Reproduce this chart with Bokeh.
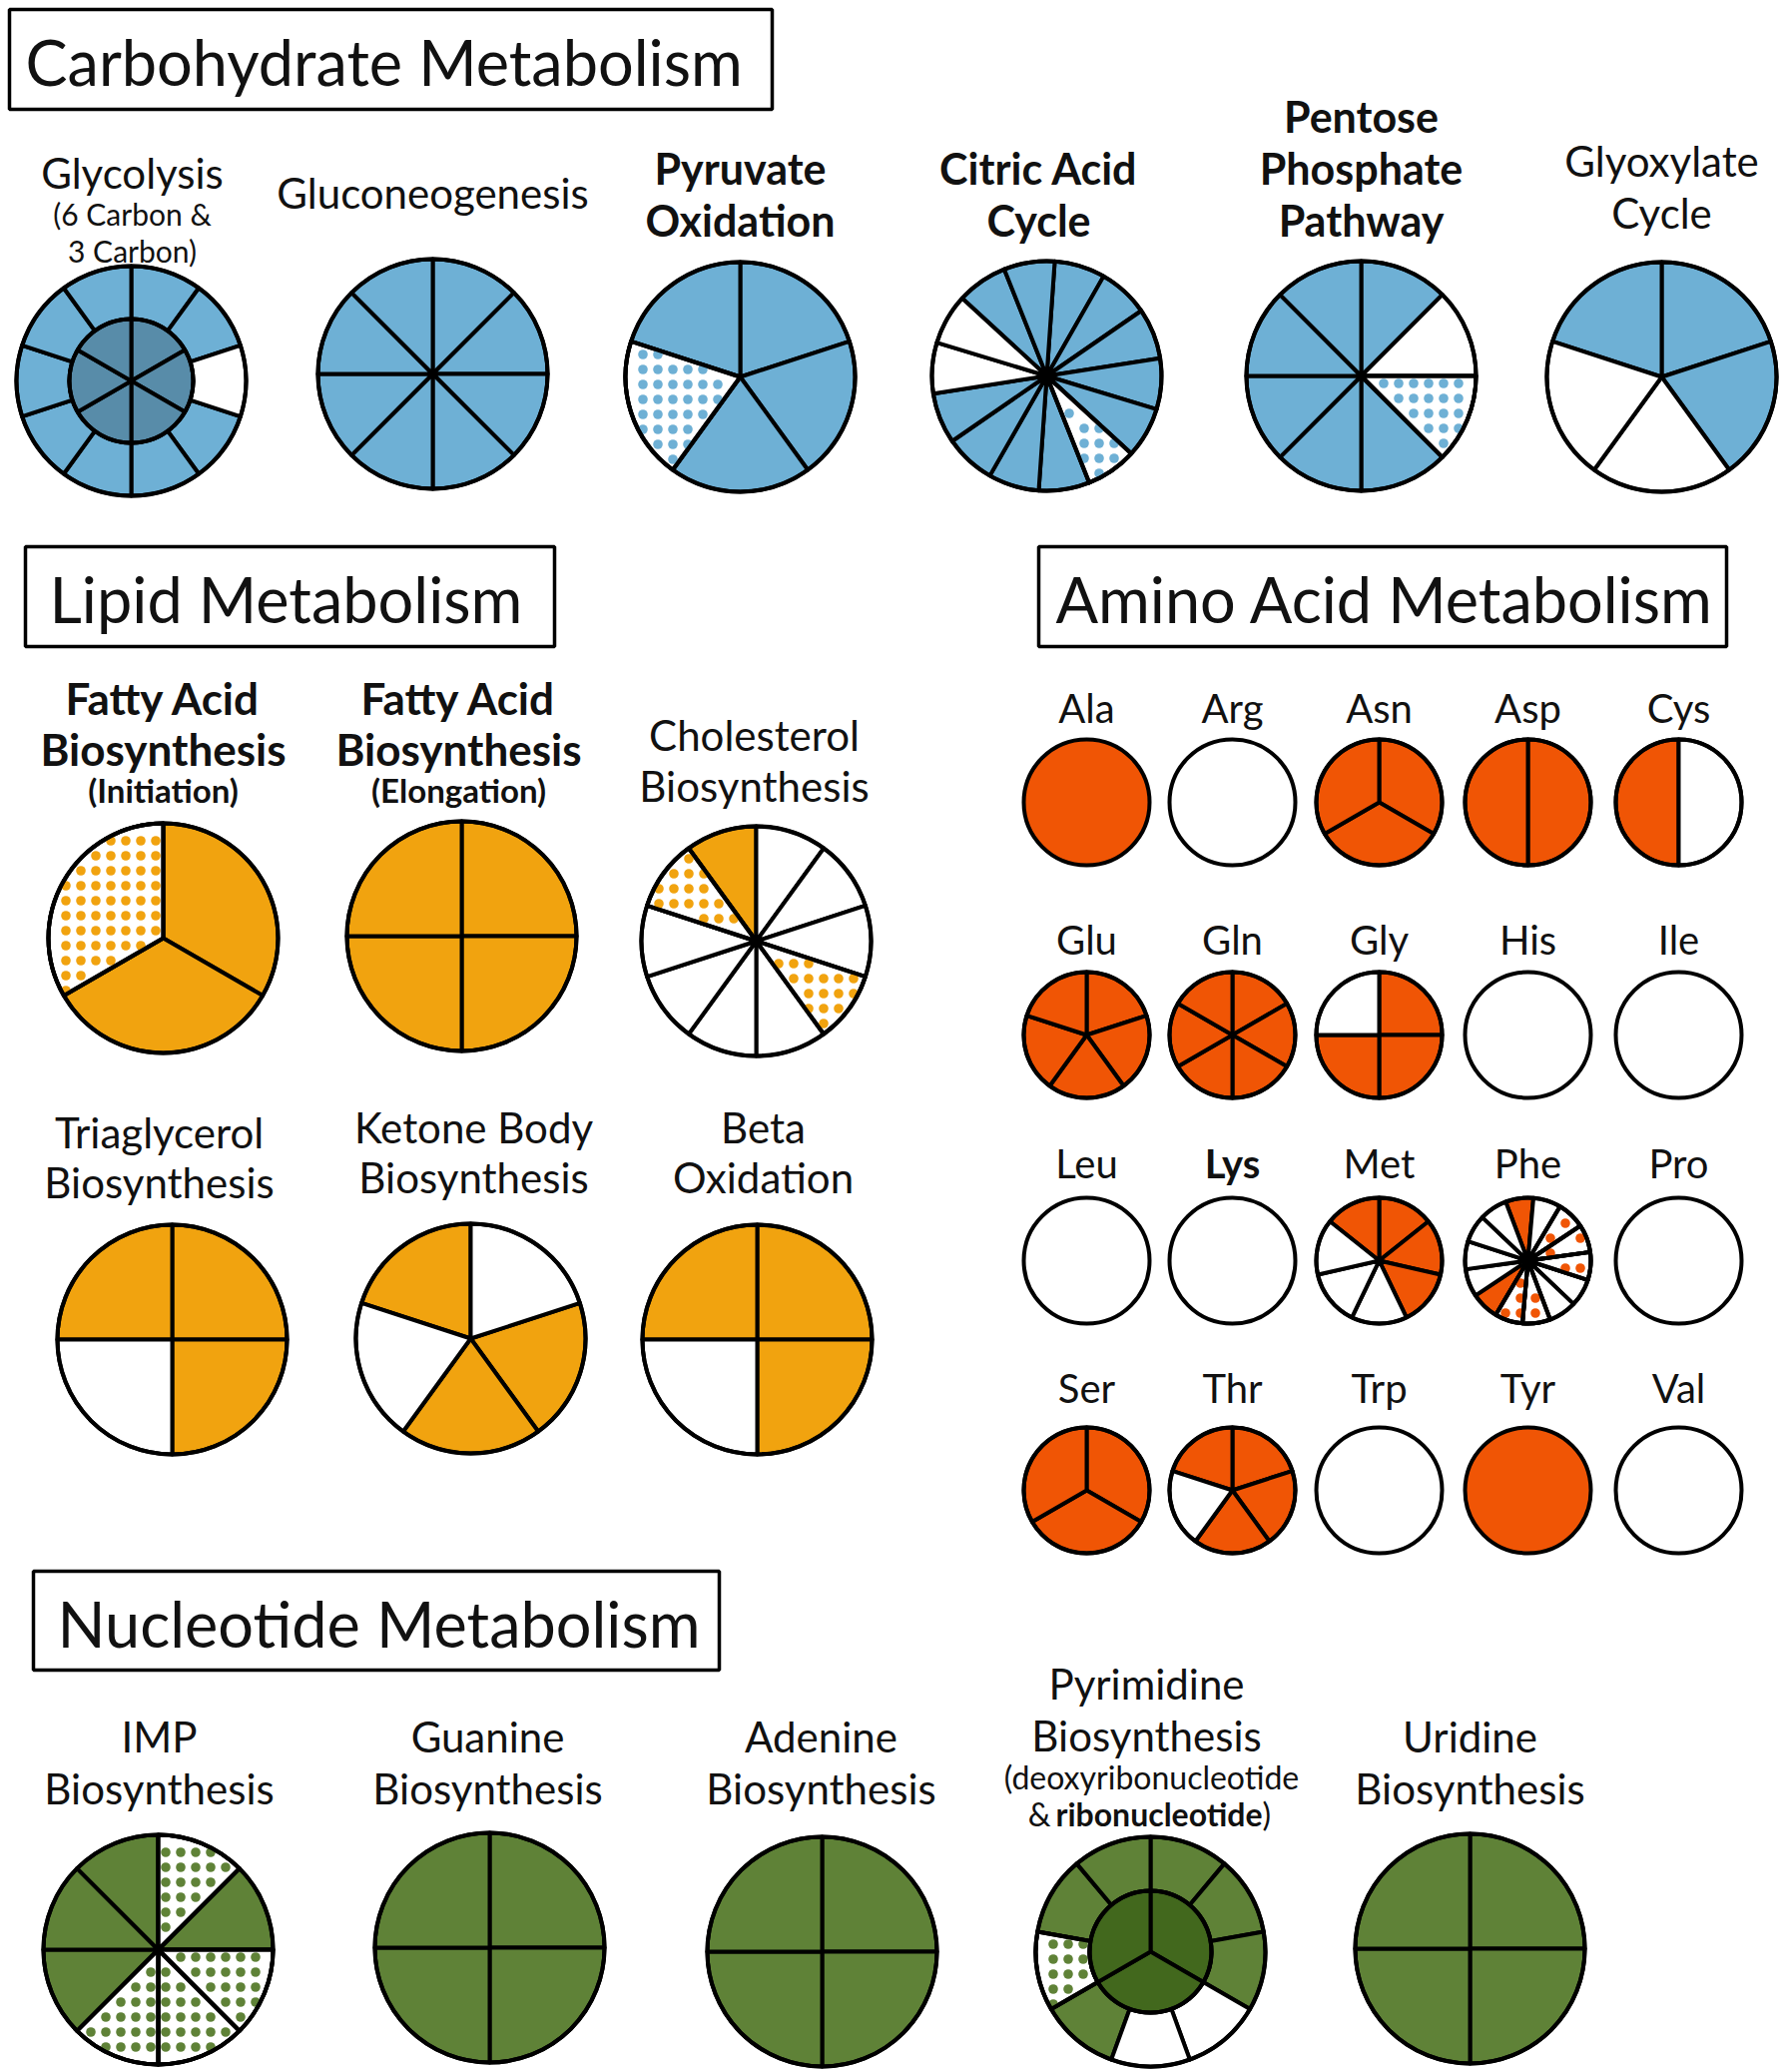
import math
from bokeh.plotting import figure
from bokeh.models import Range1d
from bokeh.embed import file_html
from bokeh.resources import INLINE
from bokeh.core.properties import value

# ---------------- data ----------------
# segment states listed clockwise from 12 o'clock:
# F = present (filled), W = absent (white), D = partial (dotted)
glycolysis_outer = list("FFWFFFFFFF")
glycolysis_inner = list("FFFFFF")
gluconeogenesis = list("FFFFFFFF")
pyruvate_oxidation = list("FFFDF")
citric_acid_cycle = list("FFFFFDFFFFWWFF")
pentose_phosphate = list("FWDFFFFF")
glyoxylate_cycle = list("FFWWF")

fa_initiation = list("FFD")
fa_elongation = list("FFFF")
cholesterol = list("WWWDWWWWDF")
triacylglycerol = list("FFWF")
ketone_body = list("WFFWF")
beta_oxidation = list("FFWF")

amino_acids = ["Ala", "Arg", "Asn", "Asp", "Cys",
               "Glu", "Gln", "Gly", "His", "Ile",
               "Leu", "Lys", "Met", "Phe", "Pro",
               "Ser", "Thr", "Trp", "Tyr", "Val"]
amino_bold = ["Lys"]
amino_states = ["F", "W", "FFF", "FF", "WF",
                "FFFFF", "FFFFFF", "FFFW", "W", "W",
                "W", "W", "FFFWWWF", "WDDDWWDDFWWWWF", "W",
                "FFF", "FFFWF", "W", "F", "W"]

imp_biosynthesis = list("DFDDDFFF")
guanine_biosynthesis = list("FFFF")
adenine_biosynthesis = list("FFFF")
pyrimidine_outer = list("FFFWWFDFF")
pyrimidine_inner = list("FFF")
uridine_biosynthesis = list("FFFF")

# ---------------- style ----------------
BLUE, BLUE_DARK = "#6eb0d5", "#588ca9"
ORANGE = "#f1a30f"
RED = "#f05505"
GREEN, GREEN_DARK = "#5f8237", "#42681d"
FONT = "Lato"
LW = 4.0
REF_H = 2075
DOT_SP, DOT_R = 15.0, 4.8

W, H = 1787, 2075
p = figure(width=W, height=H, x_range=Range1d(0, W), y_range=Range1d(REF_H - H, REF_H),
           x_axis_type=None, y_axis_type=None, toolbar_location=None, output_backend="svg",
           min_border=0, outline_line_color=None)
p.grid.visible = False


def Y(v):
    return REF_H - v


def label(x, y, txt, size, bold=False, align="center"):
    p.text(x=[x], y=[Y(y)], text=[txt], text_font=value(FONT), text_font_size=value(f"{size}px"),
           text_font_style="bold" if bold else "normal", text_align=align, text_baseline="middle",
           text_color="#111111")


def title_box(l, t, r, b, txt, tx, size=63):
    p.quad(left=[l], right=[r], top=[Y(t)], bottom=[Y(b)], fill_color=None, line_color="black", line_width=3.5)
    label(tx, (t + b) / 2 + 2, txt, size, align="left")


def wedge_dots(cx, cy, r, r_in, a1, a2):
    """grid of dots lying inside the wedge between clock angles a1..a2"""
    xs, ys = [], []
    n = int(r / DOT_SP) + 2
    for i in range(-n, n + 1):
        for j in range(-n, n + 1):
            dx, dy = (i + 0.5) * DOT_SP, (j + 0.5) * DOT_SP
            d = math.hypot(dx, dy)
            if d > r - 2.5 or d < r_in + 2.5:
                continue
            th = math.degrees(math.atan2(dx, -dy)) % 360
            rel = (th - a1) % 360
            if rel > (a2 - a1):
                continue
            m1 = d * math.sin(math.radians(rel))
            m2 = d * math.sin(math.radians((a2 - a1) - rel))
            if (rel < 90 and m1 < 2.5) or ((a2 - a1) - rel < 90 and m2 < 2.5):
                continue
            xs.append(cx + dx)
            ys.append(Y(cy + dy))
    return xs, ys


def pie(cx, cy, r, states, color, offset=0.0, r_in=0.0, lw=LW):
    n = len(states)
    step = 360.0 / n
    if n == 1:
        p.circle(x=[cx], y=[Y(cy)], radius=r, fill_color=color if states[0] == "F" else "white",
                 line_color="black", line_width=lw)
        return
    for st in "FWD":
        idx = [i for i, s in enumerate(states) if s == st]
        if not idx:
            continue
        starts = [math.radians(90 - (offset + (i + 1) * step)) for i in idx]
        ends = [math.radians(90 - (offset + i * step)) for i in idx]
        p.annular_wedge(x=[cx] * len(idx), y=[Y(cy)] * len(idx), inner_radius=r_in, outer_radius=r,
                        start_angle=starts, end_angle=ends, direction="anticlock",
                        fill_color=color if st == "F" else "white", line_color="black", line_width=lw,
                        line_join="round")
        if st == "D":
            for i in idx:
                xs, ys = wedge_dots(cx, cy, r, r_in, offset + i * step, offset + (i + 1) * step)
                p.circle(x=xs, y=ys, radius=DOT_R, fill_color=color, line_color=None)
            p.annular_wedge(x=[cx] * len(idx), y=[Y(cy)] * len(idx), inner_radius=r_in, outer_radius=r,
                            start_angle=starts, end_angle=ends, direction="anticlock",
                            fill_color=None, line_color="black", line_width=lw, line_join="round")
    p.circle(x=[cx], y=[Y(cy)], radius=r, fill_color=None, line_color="black", line_width=lw)


# ---------------- Carbohydrate ----------------
title_box(9, 9, 773, 109, "Carbohydrate Metabolism", 25)
R = 115
pie(131, 381, R, glycolysis_outer, BLUE, r_in=62)
pie(131, 381, 62, glycolysis_inner, BLUE_DARK)
pie(433, 374, R, gluconeogenesis, BLUE)
pie(741, 377, R, pyruvate_oxidation, BLUE)
pie(1048, 376, R, citric_acid_cycle, BLUE, offset=4)
pie(1363, 376, R, pentose_phosphate, BLUE)
pie(1664, 377, R, glyoxylate_cycle, BLUE)

label(132, 172, "Glycolysis", 42)
label(132, 213, "(6 Carbon &", 30)
label(132, 250, "3 Carbon)", 30)
label(433, 192, "Gluconeogenesis", 42)
label(741, 168, "Pyruvate", 43, True)
label(741, 220, "Oxidation", 43, True)
label(1040, 168, "Citric Acid", 43, True)
label(1040, 220, "Cycle", 43, True)
label(1363, 116, "Pentose", 43, True)
label(1363, 168, "Phosphate", 43, True)
label(1363, 220, "Pathway", 43, True)
label(1664, 160, "Glyoxylate", 42)
label(1664, 212, "Cycle", 42)

# ---------------- Lipid ----------------
title_box(25, 547, 555, 647, "Lipid Metabolism", 49)
pie(163, 939, R, fa_initiation, ORANGE)
pie(462, 937, R, fa_elongation, ORANGE)
pie(757, 942, R, cholesterol, ORANGE)
pie(172, 1341, R, triacylglycerol, ORANGE)
pie(471, 1340, R, ketone_body, ORANGE)
pie(758, 1341, R, beta_oxidation, ORANGE)

label(163, 698, "Fatty Acid", 44, True)
label(163, 749, "Biosynthesis", 44, True)
label(163, 790, "(Initiation)", 33, True)
label(459, 698, "Fatty Acid", 44, True)
label(459, 749, "Biosynthesis", 44, True)
label(459, 790, "(Elongation)", 33, True)
label(755, 735, "Cholesterol", 42)
label(755, 786, "Biosynthesis", 42)
label(159, 1133, "Triaglycerol", 42)
label(159, 1183, "Biosynthesis", 42)
label(474, 1128, "Ketone Body", 42)
label(474, 1178, "Biosynthesis", 42)
label(764, 1128, "Beta", 42)
label(764, 1178, "Oxidation", 42)

# ---------------- Amino acid ----------------
title_box(1040, 547, 1729, 647, "Amino Acid Metabolism", 1057)
col_x = [1088, 1234, 1381, 1530, 1681]
row_pie_y = [803, 1036, 1262, 1492]
row_lab_y = [708, 940, 1164, 1389]
for k, (aa, st) in enumerate(zip(amino_acids, amino_states)):
    r_, c_ = divmod(k, 5)
    off = 5 if aa == "Phe" else 0
    pie(col_x[c_], row_pie_y[r_], 63, list(st), RED, offset=off, lw=4.0)
    label(col_x[c_], row_lab_y[r_], aa, 40, aa in amino_bold)

# ---------------- Nucleotide ----------------
title_box(33, 1573, 720, 1672, "Nucleotide Metabolism", 57)
pie(158, 1952, R, imp_biosynthesis, GREEN)
pie(490, 1950, R, guanine_biosynthesis, GREEN)
pie(823, 1954, R, adenine_biosynthesis, GREEN)
pie(1152, 1954, R, pyrimidine_outer, GREEN, r_in=61)
pie(1152, 1954, 61, pyrimidine_inner, GREEN_DARK)
pie(1472, 1951, R, uridine_biosynthesis, GREEN)

label(159, 1738, "IMP", 42)
label(159, 1790, "Biosynthesis", 42)
label(488, 1738, "Guanine", 42)
label(488, 1790, "Biosynthesis", 42)
label(822, 1738, "Adenine", 42)
label(822, 1790, "Biosynthesis", 42)
label(1148, 1685, "Pyrimidine", 42)
label(1148, 1737, "Biosynthesis", 42)
label(1153, 1779, "(deoxyribonucleotide", 32)
label(1052, 1816, "&", 32, align="right")
label(1057, 1816, "ribonucleotide", 32, True, align="left")
label(1264, 1816, ")", 32, align="left")
label(1472, 1738, "Uridine", 42)
label(1472, 1790, "Biosynthesis", 42)

open("out.html", "w").write(file_html(p, INLINE))
